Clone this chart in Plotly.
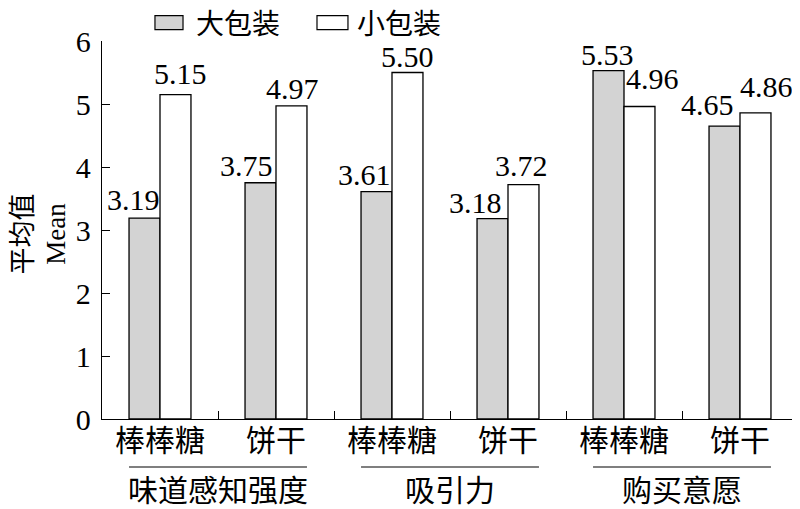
import plotly.graph_objects as go

products = ["棒棒糖", "饼干", "棒棒糖", "饼干", "棒棒糖", "饼干"]
groups = ["味道感知强度", "吸引力", "购买意愿"]
large_pack = [3.19, 3.75, 3.61, 3.18, 5.53, 4.65]
small_pack = [5.15, 4.97, 5.50, 3.72, 4.96, 4.86]
series_names = ["大包装", "小包装"]
y_ticks = [0, 1, 2, 3, 4, 5, 6]

FONT = "Liberation Serif, Times New Roman, Noto Sans CJK SC"
x = list(range(len(products)))
COLORS = ["#d3d3d3", "white"]

fig = go.Figure()
fig.add_trace(go.Bar(x=x, y=large_pack, name=series_names[0], showlegend=False,
                     marker=dict(color=COLORS[0], line=dict(color="black", width=1.3))))
fig.add_trace(go.Bar(x=x, y=small_pack, name=series_names[1], showlegend=False,
                     marker=dict(color=COLORS[1], line=dict(color="black", width=1.3))))

bar_w = 0.267
# label nudges (pixels) to mimic the reference placement
xs_large = [-11, -14, -12, -17, -1, -17]
xs_small = [5, 1, 0, -2, 13, 11]
ys_large = [1, 0, 0, -1, -1, 4]
ys_small = [4, 0, -1, 2, 11, 9]
lab_font = dict(size=30, family=FONT, color="black")
ann = []
for i in x:
    ann.append(dict(x=i - bar_w / 2, y=large_pack[i], xref="x", yref="y",
                    text=f"{large_pack[i]:.2f}", showarrow=False, yanchor="bottom", borderpad=0,
                    xshift=xs_large[i], yshift=ys_large[i], font=lab_font))
    ann.append(dict(x=i + bar_w / 2, y=small_pack[i], xref="x", yref="y",
                    text=f"{small_pack[i]:.2f}", showarrow=False, yanchor="bottom", borderpad=0,
                    xshift=xs_small[i], yshift=ys_small[i], font=lab_font))
    ann.append(dict(x=i, y=-0.0556, xref="x", yref="paper", text=products[i], showarrow=False,
                    yanchor="middle", font=dict(size=30, family=FONT, color="black")))

shapes = []
for g, name in enumerate(groups):
    a, b = 2 * g, 2 * g + 1
    shapes.append(dict(type="line", xref="x", yref="paper", x0=a - bar_w, x1=b + bar_w,
                       y0=-0.127, y1=-0.127, line=dict(color="black", width=1.2)))
    ann.append(dict(x=(a + b) / 2, y=-0.188, xref="x", yref="paper", text=name, showarrow=False,
                    yanchor="middle", font=dict(size=30, family=FONT, color="black")))

# y-axis title (two columns)
ann.append(dict(x=-0.114, y=0.49, xref="paper", yref="paper", text="平均值",
                textangle=-90, showarrow=False, xanchor="center", yanchor="middle",
                borderpad=0, font=dict(size=27, family=FONT, color="black")))
ann.append(dict(x=-0.0661, y=0.49, xref="paper", yref="paper", text="Mean",
                textangle=-90, showarrow=False, xanchor="center", yanchor="middle",
                font=dict(size=27, family=FONT, color="black")))

# legend drawn as boxes + labels
leg_boxes = [(0.0761, 0.1164), (0.3089, 0.3534)]
leg_text_x = [0.1336, 0.365]
for k in range(2):
    shapes.append(dict(type="rect", xref="paper", yref="paper",
                       x0=leg_boxes[k][0], x1=leg_boxes[k][1], y0=1.030, y1=1.067,
                       fillcolor=COLORS[k], line=dict(color="black", width=1.2)))
    ann.append(dict(x=leg_text_x[k], y=1.0435, xref="paper", yref="paper", text=series_names[k],
                    showarrow=False, xanchor="left", yanchor="middle", borderpad=0,
                    font=dict(size=28, family=FONT, color="black")))

# the page body adds an 8px offset; size/margins compensate so the plot lands where the reference has it
fig.update_layout(
    width=792, height=501,
    margin=dict(l=94, r=2, t=33, b=90),
    paper_bgcolor="white", plot_bgcolor="white",
    barmode="group", bargap=0.466, bargroupgap=0,
    font=dict(family=FONT, size=30, color="black"),
    showlegend=False,
    annotations=ann, shapes=shapes,
)
fig.update_xaxes(range=[-0.5, 5.5], showline=True, linecolor="black", linewidth=1.3,
                 tickmode="array", tickvals=[0.5, 1.5, 2.5, 3.5, 4.5, 5.5], ticktext=[""] * 6,
                 ticks="inside", ticklen=8, tickcolor="black", tickwidth=1.2,
                 showgrid=False, zeroline=False)
fig.update_yaxes(range=[0, 6], showline=True, linecolor="black", linewidth=1.3,
                 tickmode="array", tickvals=y_ticks, ticks="inside", ticklen=8,
                 tickcolor="black", tickwidth=1.2, showgrid=False, zeroline=False,
                 ticklabelstandoff=4, tickfont=dict(size=30, family=FONT))

fig.write_html("out.html")
